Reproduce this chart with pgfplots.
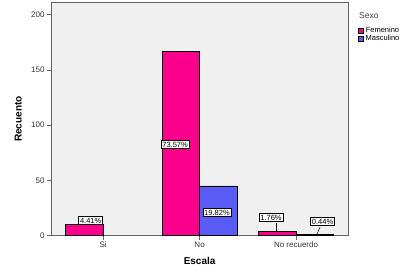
\documentclass[border=0pt]{standalone}
\usepackage{pgfplots}
\pgfplotsset{compat=1.18}
\usepackage{fontspec}
\setmainfont{Liberation Sans}
\definecolor{fem}{RGB}{250,0,140}
\definecolor{mas}{RGB}{90,90,245}
\definecolor{bg}{RGB}{240,240,240}
\definecolor{frame}{RGB}{100,100,100}
\begin{document}
\begin{tikzpicture}[x=1pt,y=1pt]
\useasboundingbox (0,0) rectangle (406,271);
\fill[white] (0,0) rectangle (406,271);
\begin{axis}[
  at={(53,32)}, anchor=south west,
  scale only axis, width=297pt, height=233pt,
  xmin=-0.54, xmax=2.54, ymin=0, ymax=210.9,
  axis background/.style={fill=bg},
  axis line style={frame, line width=0.8pt},
  xtick={0,1,2}, xticklabels={Si,No,No recuerdo},
  ytick={0,50,100,150,200},
  tick style={frame, line width=0.6pt},
  tick align=outside, major tick length=4pt,
  xtick pos=bottom, ytick pos=left,
  tick label style={font=\fontsize{8}{9}\selectfont, text=black!80},
  xticklabel style={yshift=1pt},
  yticklabel style={xshift=1pt},
  /pgf/number format/assume math mode=true,
  xlabel={Escala}, ylabel={Recuento},
  every axis x label/.style={at={(axis description cs:0.5,-0.107)}, anchor=center, font=\fontsize{10}{12}\selectfont\bfseries},
  every axis y label/.style={at={(axis description cs:-0.111,0.5)}, rotate=90, anchor=center, font=\fontsize{10}{12}\selectfont\bfseries},
  ybar, bar width=0.39,
  legend style={at={(1.033,0.905)}, anchor=north west, draw=none, fill=none,
    font=\fontsize{7.5}{8}\selectfont, row sep=-2.5pt, inner sep=0pt,
    /tikz/every even column/.append style={column sep=1pt}},
  legend image code/.code={\draw[#1, line width=0.5pt] (0pt,-2.5pt) rectangle (5pt,2.5pt);},
  clip=false,
]
\addplot[fill=fem, draw=black, line width=0.5pt, bar shift=-0.195] coordinates {(0,10) (1,167) (2,4)};
\addlegendentry{Femenino}
\addplot[fill=mas, draw=black, line width=0.5pt, bar shift=0.195] coordinates {(1,45) (2,1)};
\addlegendentry{Masculino}
\tikzset{pl/.style={draw=black, fill=white, line width=0.5pt, inner sep=1.3pt, font=\fontsize{7.5}{8}\selectfont}}
\node[pl] at (axis cs:-0.13,13.6) {4.41\%};
\node[pl] at (axis cs:0.746,82.4) {73.57\%};
\node[pl] at (axis cs:1.18,20.8) {19.82\%};
\draw[black, line width=0.5pt] (axis cs:1.793,11.5) -- (axis cs:1.793,4);
\node[pl] at (axis cs:1.74,16.3) {1.76\%};
\draw[black, line width=0.5pt] (axis cs:2.249,7.5) -- (axis cs:2.215,1);
\node[pl] at (axis cs:2.275,12.7) {0.44\%};
\node[font=\fontsize{8.5}{9}\selectfont, text=black!75] at (axis description cs:1.07,0.945) {Sexo};
\end{axis}
\end{tikzpicture}
\end{document}
